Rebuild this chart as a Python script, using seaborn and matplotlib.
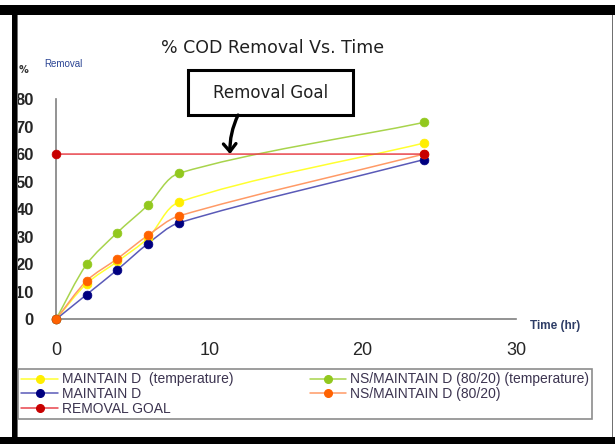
import numpy as np
import pandas as pd
import matplotlib
matplotlib.use("Agg")
import matplotlib.pyplot as plt
from matplotlib.lines import Line2D
from matplotlib.patches import Rectangle, PathPatch
from matplotlib.path import Path
import seaborn as sns

# --- data -------------------------------------------------------------
time_hr = [0, 2, 4, 6, 8, 24]
maintained_temp = [0, 13, 21, 29.5, 42.5, 64]
ns_maintained_temp = [0, 20, 31.5, 41.5, 53, 71.5]
maintained = [0, 9, 18, 27.5, 35, 58]
ns_maintained = [0, 14, 22, 30.5, 37.5, 60]
goal_time = [0, 24]
goal_value = [60, 60]

series_labels = [
    "MAINTAIN D  (temperature)",
    "NS/MAINTAIN D (80/20) (temperature)",
    "MAINTAIN D",
    "NS/MAINTAIN D (80/20)",
    "REMOVAL GOAL",
]
x_ticks = [0, 10, 20, 30]
y_ticks = [0, 10, 20, 30, 40, 50, 60, 70, 80]

# --- style --------------------------------------------------------------
sns.set_style("white")
plt.rcParams["font.family"] = ["DejaVu Sans"]

W, H = 615, 444
fig = plt.figure(figsize=(W / 100, H / 100), dpi=100)
fig.patch.set_facecolor("white")


def fx(px):
    return px / W


def fy(py):
    return 1 - py / H


ax = fig.add_axes([fx(56), fy(319.3), fx(516) - fx(56), fy(99) - fy(319.3)])

# line colour, marker colour
styles = {
    series_labels[0]: ("#ffff30", "#ffee00"),
    series_labels[1]: ("#a8d44c", "#92c81e"),
    series_labels[2]: ("#5a5ab8", "#000080"),
    series_labels[3]: ("#ff9a66", "#ff6200"),
    series_labels[4]: ("#e8444c", "#c80000"),
}

frames = []
for lab, vals in zip(series_labels[:4],
                     [maintained_temp, ns_maintained_temp, maintained, ns_maintained]):
    frames.append(pd.DataFrame({"time": time_hr, "removal": vals, "series": lab}))
frames.append(pd.DataFrame({"time": goal_time, "removal": goal_value,
                            "series": series_labels[4]}))
df = pd.concat(frames, ignore_index=True)

# screen aspect of the axes (pixels per x unit / pixels per y unit)
ASPECT = (460 / 30) / (220.3 / 80)


def smooth_path(xs, ys, tension=0.3):
    """Smoothed Bezier path through the points, tangents taken in screen space."""
    pts = np.column_stack([np.asarray(xs, float) * ASPECT, np.asarray(ys, float)])
    n = len(pts)
    tang = []
    for i in range(n):
        d = pts[min(i + 1, n - 1)] - pts[max(i - 1, 0)]
        nd = np.hypot(*d)
        tang.append(d / nd if nd > 0 else d)
    verts = [pts[0]]
    codes = [Path.MOVETO]
    for i in range(n - 1):
        p1, p2 = pts[i], pts[i + 1]
        L = np.hypot(*(p2 - p1))
        c1 = p1 + tang[i] * L * tension
        c2 = p2 - tang[i + 1] * L * tension
        verts += [c1, c2, p2]
        codes += [Path.CURVE4] * 3
    verts = np.array(verts)
    verts[:, 0] /= ASPECT
    return Path(verts, codes)


for lab in series_labels:
    sub = df[df["series"] == lab]
    lc, mc = styles[lab]
    patch = PathPatch(smooth_path(sub["time"].values, sub["removal"].values),
                      fill=False, edgecolor=lc, lw=1.1, zorder=2, clip_on=False)
    ax.add_patch(patch)
    sns.scatterplot(data=sub, x="time", y="removal", color=mc, s=40,
                    edgecolor=mc, linewidth=0.5, ax=ax, zorder=3,
                    clip_on=False, legend=False)

# --- axes ---------------------------------------------------------------
ax.set_xlim(0, 30)
ax.set_ylim(0, 80)
ax.set_xticks(x_ticks)
ax.set_yticks(y_ticks)
ax.set_xlabel("")
ax.set_ylabel("")
for s in ["top", "right"]:
    ax.spines[s].set_visible(False)
for s in ["left", "bottom"]:
    ax.spines[s].set_color("#808080")
    ax.spines[s].set_linewidth(1.2)
ax.tick_params(axis="y", direction="out", length=5, width=1.2, color="#808080",
               pad=11, labelsize=12, labelcolor="#262626")
ax.tick_params(axis="x", direction="in", length=3.5, width=1.2, color="#808080",
               pad=16, labelsize=13, labelcolor="#262626")
for t in ax.get_yticklabels():
    t.set_fontfamily("Liberation Sans")
    t.set_fontweight("bold")
for t in ax.get_xticklabels():
    t.set_fontfamily("Liberation Sans")

# --- texts --------------------------------------------------------------
fig.text(fx(273), fy(48), "% COD Removal Vs. Time", ha="center", va="center",
         fontsize=12.5, color="#202020")
fig.text(fx(19), fy(70), "%", ha="left", va="center", fontsize=7,
         color="#303030", fontweight="bold")
fig.text(fx(44), fy(64), "Removal", ha="left", va="center", fontsize=7,
         color="#2a4494", fontfamily="Liberation Sans")
fig.text(fx(530), fy(326), "Time (hr)", ha="left", va="center", fontsize=8.5,
         color="#2e3d66", fontweight="bold", fontfamily="Liberation Sans")

# annotation box with arrow pointing at the goal line
box = Rectangle((0.287, 0.927), 0.3587, 0.2046, transform=ax.transAxes,
                fill=True, facecolor="white", edgecolor="black", lw=2.2,
                clip_on=False, zorder=5)
ax.add_patch(box)
ax.text(0.467, 1.029, "Removal Goal", transform=ax.transAxes, ha="center",
        va="center", fontsize=12, color="#202020", zorder=6)
ax.annotate("", xy=(11.35, goal_value[0]), xycoords="data",
            xytext=(0.3957, 0.927), textcoords="axes fraction",
            arrowprops=dict(arrowstyle="->,head_length=0.55,head_width=0.45",
                            lw=2.4, color="black", shrinkA=0, shrinkB=0,
                            connectionstyle="arc3,rad=0.12"),
            annotation_clip=False, zorder=6)

# --- legend -------------------------------------------------------------
order = [0, 2, 4, 1, 3]
handles = [Line2D([0], [0], color=styles[series_labels[i]][0], lw=1.1,
                  marker="o", markersize=5.5,
                  markerfacecolor=styles[series_labels[i]][1],
                  markeredgecolor=styles[series_labels[i]][1]) for i in order]
labels = [series_labels[i] for i in order]
leg = fig.legend(handles, labels, loc="upper left",
                 bbox_to_anchor=(fx(18), fy(369)), ncol=2, frameon=True,
                 fancybox=False, shadow=False, borderpad=0.25,
                 borderaxespad=0, handlelength=2.6, handletextpad=0.3,
                 columnspacing=5.5, labelspacing=0.05,
                 prop={"family": "Liberation Sans", "size": 10},
                 labelcolor="#3c3450")
leg.get_frame().set_edgecolor("#707070")
leg.get_frame().set_linewidth(1.2)

# --- outer frame ----------------------------------------------------------
def band(x0, y0, x1, y1, color):
    fig.add_artist(Rectangle((fx(x0), fy(y1)), fx(x1) - fx(x0), fy(y0) - fy(y1),
                             transform=fig.transFigure, facecolor=color,
                             edgecolor="none", zorder=10))

band(0, 5, W, 15, "black")
band(12, 5, 17, H, "black")
band(0, 437, W, H, "black")
band(17, 15, 18.2, 437, "#707070")
band(611.8, 15, 613, 437, "#707070")

fig.savefig("out.png", dpi=100)
